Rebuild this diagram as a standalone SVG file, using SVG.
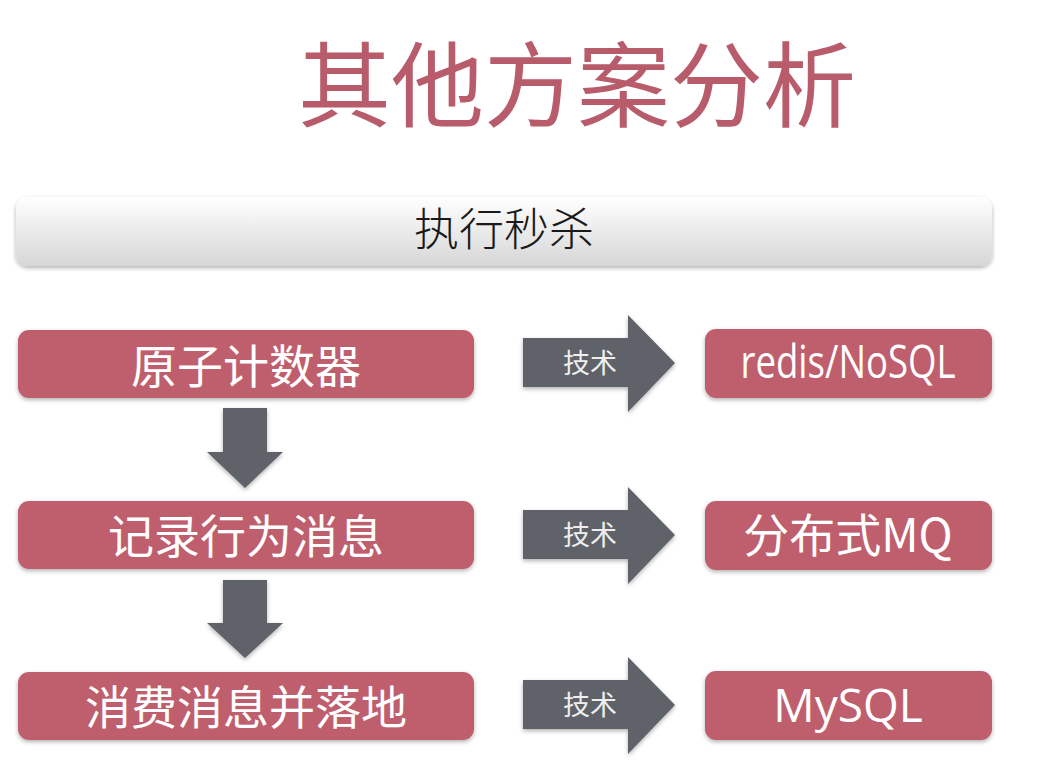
<svg xmlns="http://www.w3.org/2000/svg" width="1062" height="776" viewBox="0 0 1062 776">
<defs>
<linearGradient id="bar" x1="0" y1="0" x2="0" y2="1">
<stop offset="0" stop-color="#ffffff"/>
<stop offset="1" stop-color="#d6d6d6"/>
</linearGradient>
<filter id="sh" x="-5%" y="-20%" width="110%" height="150%">
<feDropShadow dx="0" dy="2" stdDeviation="2" flood-color="#000" flood-opacity="0.3"/>
</filter>
</defs>
<style>
.box{fill:#bf5e6e;filter:url(#sh)}
.ar{fill:#5f6267;filter:url(#sh)}
.cjk{font-family:"Noto Sans CJK SC","Noto Sans",sans-serif}
.lbl{fill:#ffffff;font-size:46px;text-anchor:middle}
.tech{fill:#eeeeee;font-size:27px;text-anchor:middle}
.en{font-family:"Open Sans","Noto Sans CJK SC",sans-serif}
</style>
<rect width="1062" height="776" fill="#ffffff"/>
<text id="title" class="cjk" x="577" y="120" font-size="93" fill="#b85c6c" text-anchor="middle">其他方案分析</text>
<g id="banner">
<rect x="16" y="197" width="976" height="69" rx="12" fill="url(#bar)" filter="url(#sh)"/>
<text class="cjk" x="504" y="246" font-size="45" font-weight="300" fill="#1a1a1a" text-anchor="middle">执行秒杀</text>
</g>
<g id="n1"><rect class="box" x="18" y="330" width="456" height="68" rx="11"/><text class="cjk lbl" x="246" y="383">原子计数器</text></g>
<g id="n2"><rect class="box" x="18" y="501" width="456" height="68" rx="11"/><text class="cjk lbl" x="246" y="553">记录行为消息</text></g>
<g id="n3"><rect class="box" x="18" y="672" width="456" height="68" rx="11"/><text class="cjk lbl" x="246" y="724">消费消息并落地</text></g>
<g id="t1"><rect class="box" x="705" y="329" width="287" height="69" rx="11"/><text class="en lbl" x="848" y="378" font-size="37" textLength="215" lengthAdjust="spacingAndGlyphs">redis/NoSQL</text></g>
<g id="t2"><rect class="box" x="705" y="501" width="287" height="69" rx="11"/><text class="cjk lbl" x="848" y="552">分布式MQ</text></g>
<g id="t3"><rect class="box" x="705" y="671" width="287" height="69" rx="11"/><text class="en lbl" x="848" y="722" font-size="46">MySQL</text></g>
<g id="connectors">
<polygon class="ar" points="223,408 267,408 267,452 283,452 245,488 207,452 223,452"/>
<polygon class="ar" points="223,580 267,580 267,623 283,623 245,658 207,623 223,623"/>
<g>
<polygon class="ar" points="523,338 628,338 628,315 675,363 628,412 628,387 523,387"/>
<text class="cjk tech" x="590" y="373">技术</text>
</g>
<g>
<polygon class="ar" points="523,510 628,510 628,487 675,535 628,584 628,559 523,559"/>
<text class="cjk tech" x="590" y="545">技术</text>
</g>
<g>
<polygon class="ar" points="523,680 628,680 628,657 675,705 628,754 628,729 523,729"/>
<text class="cjk tech" x="590" y="715">技术</text>
</g>
</g>
</svg>
